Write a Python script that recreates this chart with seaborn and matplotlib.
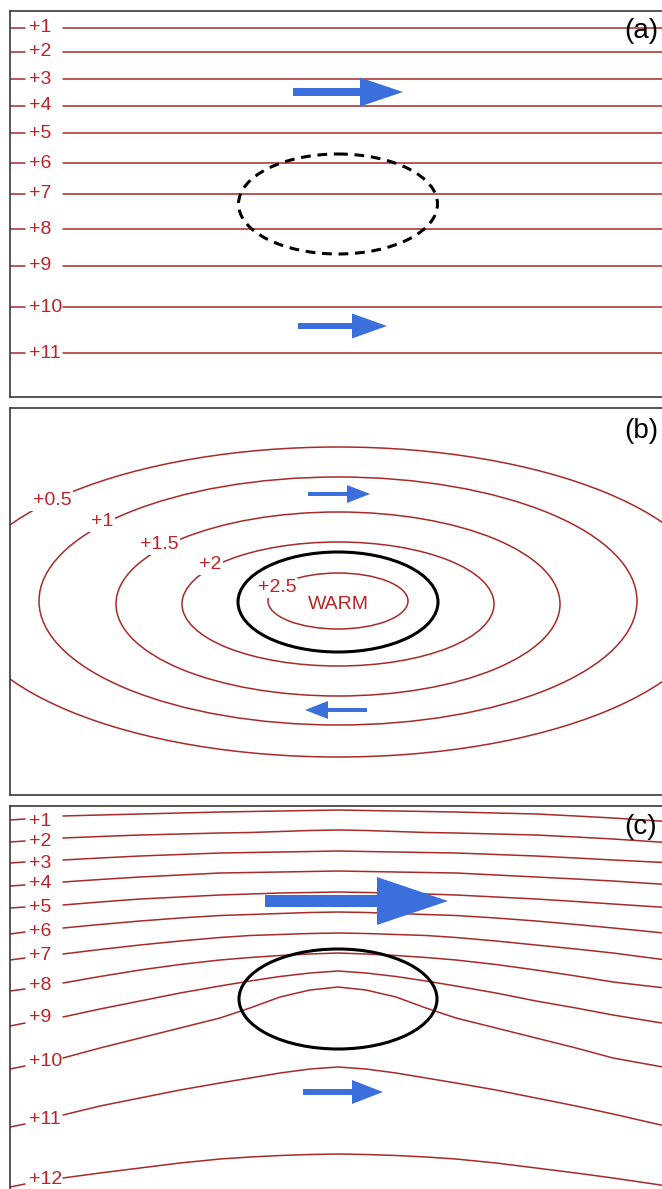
import numpy as np
import pandas as pd
import matplotlib
matplotlib.use("Agg")
import matplotlib.pyplot as plt
from matplotlib.patches import Ellipse
import seaborn as sns

sns.set_theme(style="white")
plt.rcParams['font.family'] = ['Liberation Sans', 'DejaVu Sans']

RED_LINE = "#a82a2a"
RED_TEXT = "#bb2528"
BLUE = "#3b6fdb"

W, H = 662, 1189

# panel frames in pixel units (the picture is cropped on the right / bottom)
panel_top = [11, 408, 806]
panel_bottom = [397, 795, 1200]
panel_left, panel_right = 10, 674
panel_tags = ["(a)", "(b)", "(c)"]
tag_y = [31, 431, 827]

# --- panel (a): straight isolines
a_levels = ["+1", "+2", "+3", "+4", "+5", "+6", "+7", "+8", "+9", "+10", "+11"]
a_y = [28, 52, 79, 106, 133, 163, 194, 229, 266, 307, 353]

# --- panel (b): closed isolines around a warm core
b_levels = ["+0.5", "+1", "+1.5", "+2", "+2.5"]
b_half_w = [378, 299, 222, 156, 70]
b_half_h = [155, 124, 92, 62, 28]
b_center_y = [602, 601, 604, 604, 601]
b_label_x = [52, 102, 159, 210, 277]
b_label_y = [501, 522, 545, 565, 588]

# --- panel (c): isolines bent over the anomaly
c_levels = ["+1", "+2", "+3", "+4", "+5", "+6", "+7", "+8", "+9", "+10", "+11", "+12"]
c_stub_y0 = [820, 842, 863, 886, 908, 934, 960, 991, 1026, 1069, 1127, 1187]
c_stub_y1 = [819, 841, 862, 885, 907, 932, 958, 989, 1023, 1066, 1124, 1184]
c_x = [63, 100, 140, 180, 220, 250, 280, 310, 338, 366, 396, 426, 456, 496, 536, 576, 613, 674]
c_y = [
    [816, 815, 814, 813, 812, 811.5, 811, 810.5, 810, 810.5, 811, 811.5, 812, 813, 814, 816, 818, 822],
    [838, 836.5, 835, 834, 833, 832.5, 831.5, 830.5, 830, 830.5, 831.5, 832.5, 833, 834, 835, 837, 839, 843],
    [860, 858, 856, 854.5, 853, 852.5, 852, 851.5, 851, 851.5, 852, 852.5, 853, 854.5, 856, 858, 860, 863],
    [882, 879.5, 877, 875, 873, 872.5, 872, 871.5, 871, 871.5, 872, 872.5, 873, 875, 877, 879, 881, 885],
    [905, 902, 899, 897, 895, 894, 893, 892.5, 892, 892.5, 893, 894, 895, 897, 899, 901.5, 904, 908],
    [928, 924.5, 921, 918, 915.5, 914.5, 913.5, 912.5, 912, 912.5, 913.5, 914.5, 915.5, 918, 921, 924.5, 928, 934],
    [954, 949.5, 945, 941, 937.5, 935.5, 934.5, 933.5, 933, 933.5, 934.5, 935.5, 937.5, 941, 945, 949, 953, 961],
    [983, 976.5, 970, 964.5, 960, 957.5, 955.5, 954, 953, 954, 955.5, 957.5, 960, 964.5, 970, 976, 982, 989],
    [1017, 1009, 1001, 993, 986, 981, 976.5, 973, 971, 973, 976.5, 981, 986, 993, 1001, 1008, 1015, 1025],
    [1058, 1048, 1038, 1028, 1018, 1008, 997, 990, 987, 990, 997, 1008, 1018, 1028, 1038, 1048, 1058, 1069],
    [1115, 1106, 1098, 1090, 1083, 1078, 1073, 1069, 1067, 1069, 1073, 1078, 1083, 1090, 1098, 1106, 1114, 1128],
    [1178, 1173, 1168, 1163, 1159, 1157, 1155.5, 1154.5, 1154, 1154.5, 1155.5, 1157, 1159, 1163, 1168, 1173, 1178, 1187],
]
c_label_y = [821, 841, 863, 884, 907, 931, 955, 985, 1018, 1061, 1119, 1180]

# anomaly outline (center x, center y, width, height) per panel
anom_x = [338, 338, 338]
anom_y = [204, 602, 999]
anom_w = [199, 200, 198]
anom_h = [100, 100, 100]

# wind arrows: start x, end x, y, shaft width, head width, head length
arrows = {
    0: [(293, 403, 92, 8, 29, 43), (298, 387, 326, 6, 25, 35)],
    1: [(308, 370, 494, 4, 18, 23), (367, 305, 710, 4, 18, 23)],
    2: [(265, 448, 901, 12, 48, 71), (303, 383, 1092, 6, 24, 31)],
}

fig = plt.figure(figsize=(W / 100, H / 100), dpi=100)
fig.patch.set_facecolor("white")

axes = []
for i in range(3):
    rect = [panel_left / W, 1 - panel_bottom[i] / H,
            (panel_right - panel_left) / W, (panel_bottom[i] - panel_top[i]) / H]
    ax = fig.add_axes(rect)
    axes.append(ax)

# panel (a) lines
rows = []
for lev, y in zip(a_levels, a_y):
    rows += [(10, y, lev + "s"), (25, y, lev + "s"), (63, y, lev), (674, y, lev)]
df_a = pd.DataFrame(rows, columns=["x", "y", "seg"])
sns.lineplot(data=df_a, x="x", y="y", units="seg", estimator=None, sort=False,
             color=RED_LINE, linewidth=1.1, legend=False, ax=axes[0])
for lev, y in zip(a_levels, a_y):
    axes[0].text(29, y, lev, color=RED_TEXT, fontsize=14, ha="left", va="center")

# panel (b) ellipses
for lev, a, b, cy, lx, ly in zip(b_levels, b_half_w, b_half_h, b_center_y, b_label_x, b_label_y):
    axes[1].add_patch(Ellipse((338, cy), 2 * a, 2 * b, fill=False,
                              edgecolor=RED_LINE, linewidth=1.1, zorder=2))
    axes[1].text(lx, ly, lev, color=RED_TEXT, fontsize=14, ha="center", va="center",
                 zorder=3, bbox=dict(fc="white", ec="none", pad=1.0))
axes[1].text(338, 605, "WARM", color=RED_TEXT, fontsize=14, ha="center", va="center", zorder=3)

# panel (c) lines
rows = []
for lev, y0, y1, ys in zip(c_levels, c_stub_y0, c_stub_y1, c_y):
    rows += [(10, y0, lev + "s"), (25, y1, lev + "s")]
    rows += [(x, y, lev) for x, y in zip(c_x, ys)]
df_c = pd.DataFrame(rows, columns=["x", "y", "seg"])
sns.lineplot(data=df_c, x="x", y="y", units="seg", estimator=None, sort=False,
             color=RED_LINE, linewidth=1.1, legend=False, ax=axes[2])
for lev, y in zip(c_levels, c_label_y):
    axes[2].text(29, y, lev, color=RED_TEXT, fontsize=14, ha="left", va="center")

# anomaly outlines
for i, ax in enumerate(axes):
    ls = (0, (3.2, 2.2)) if i == 0 else "-"
    ax.add_patch(Ellipse((anom_x[i], anom_y[i]), anom_w[i], anom_h[i], fill=False,
                         edgecolor="black", linewidth=2.2, linestyle=ls, zorder=4))

# arrows
for i, ax in enumerate(axes):
    for x0, x1, y, w, hw, hl in arrows[i]:
        ax.arrow(x0, y, x1 - x0, 0, width=w, head_width=hw, head_length=hl,
                 length_includes_head=True, color=BLUE, linewidth=0, zorder=5)

for i, ax in enumerate(axes):
    ax.set_xlim(panel_left, panel_right)
    ax.set_ylim(panel_bottom[i], panel_top[i])
    ax.set(xlabel="", ylabel="", xticks=[], yticks=[])
    for s in ax.spines.values():
        s.set_color("#3a3a3a")
        s.set_linewidth(1.2)
    ax.text(624, tag_y[i], panel_tags[i], fontsize=20, color="black",
            ha="left", va="center", zorder=6)

fig.savefig("out.png", dpi=100, facecolor="white")
